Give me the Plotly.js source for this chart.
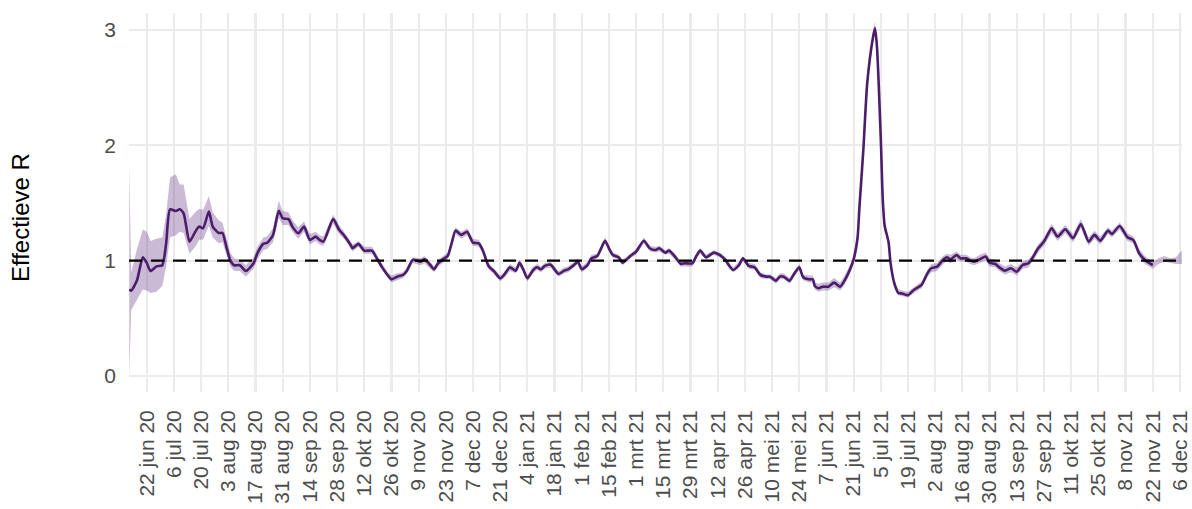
<!DOCTYPE html>
<html>
<head>
<meta charset="utf-8">
<script src="https://cdn.plot.ly/plotly-3.0.1.min.js"></script>
<style>
  html, body { margin: 0; padding: 0; background: #ffffff; }
  #chart { width: 1192px; height: 509px; }
</style>
</head>
<body>
<div id="chart"></div>
<script>
// ---- Data ----
const dates = [
  "2020-06-13","2020-06-14","2020-06-17","2020-06-20","2020-06-22","2020-06-24","2020-06-27","2020-06-30",
  "2020-07-02","2020-07-04","2020-07-07","2020-07-09","2020-07-11","2020-07-14","2020-07-17","2020-07-19",
  "2020-07-21","2020-07-24","2020-07-26","2020-07-29","2020-07-31","2020-08-02","2020-08-04","2020-08-06",
  "2020-08-09","2020-08-12","2020-08-16","2020-08-18","2020-08-21","2020-08-23","2020-08-26","2020-08-29",
  "2020-08-31","2020-09-03","2020-09-05","2020-09-08","2020-09-11","2020-09-14","2020-09-17","2020-09-19",
  "2020-09-21","2020-09-26","2020-09-29","2020-10-02","2020-10-05","2020-10-06","2020-10-09","2020-10-12",
  "2020-10-16","2020-10-18","2020-10-21","2020-10-24","2020-10-26","2020-10-29","2020-11-01","2020-11-03",
  "2020-11-06","2020-11-10","2020-11-12","2020-11-15","2020-11-17","2020-11-19","2020-11-22","2020-11-24",
  "2020-11-26","2020-11-28","2020-12-01","2020-12-04","2020-12-07","2020-12-10","2020-12-12","2020-12-15",
  "2020-12-18","2020-12-21","2020-12-23","2020-12-26","2020-12-29","2020-12-31","2021-01-02","2021-01-04",
  "2021-01-07","2021-01-09","2021-01-11","2021-01-13","2021-01-16","2021-01-20","2021-01-23","2021-01-25",
  "2021-01-28","2021-01-30","2021-02-01","2021-02-04","2021-02-06","2021-02-09","2021-02-11","2021-02-13",
  "2021-02-15","2021-02-17","2021-02-20","2021-02-22","2021-02-26","2021-03-01","2021-03-05","2021-03-08",
  "2021-03-11","2021-03-13","2021-03-16","2021-03-18","2021-03-21","2021-03-24","2021-03-26","2021-03-30",
  "2021-04-01","2021-04-03","2021-04-06","2021-04-10","2021-04-13","2021-04-16","2021-04-18","2021-04-20",
  "2021-04-23","2021-04-25","2021-04-28","2021-05-01","2021-05-04","2021-05-07","2021-05-09","2021-05-12",
  "2021-05-14","2021-05-16","2021-05-19","2021-05-21","2021-05-24","2021-05-26","2021-05-29","2021-05-31",
  "2021-06-01","2021-06-03","2021-06-05","2021-06-08","2021-06-11","2021-06-14","2021-06-16","2021-06-19",
  "2021-06-21","2021-06-23","2021-06-24","2021-06-26","2021-06-28","2021-07-01","2021-07-02","2021-07-03",
  "2021-07-05","2021-07-06","2021-07-07","2021-07-09","2021-07-10","2021-07-12","2021-07-14","2021-07-16",
  "2021-07-19","2021-07-22","2021-07-26","2021-07-29","2021-07-31","2021-08-03","2021-08-06","2021-08-08",
  "2021-08-10","2021-08-13","2021-08-15","2021-08-18","2021-08-20","2021-08-22","2021-08-25","2021-08-28",
  "2021-08-30","2021-09-02","2021-09-04","2021-09-07","2021-09-10","2021-09-13","2021-09-16","2021-09-19",
  "2021-09-21","2021-09-24","2021-09-27","2021-10-01","2021-10-04","2021-10-08","2021-10-12","2021-10-16",
  "2021-10-20","2021-10-23","2021-10-26","2021-10-30","2021-11-01","2021-11-05","2021-11-09","2021-11-12",
  "2021-11-15","2021-11-18","2021-11-21","2021-11-22","2021-11-25","2021-11-28","2021-12-01","2021-12-04",
  "2021-12-07"
];

const rValues = [
  0.75,0.74,0.83,1.03,0.98,0.91,0.95,0.96,
  1.15,1.445,1.43,1.445,1.41,1.165,1.25,1.295,
  1.28,1.425,1.295,1.24,1.24,1.12,1.005,0.96,
  0.96,0.91,0.977,1.064,1.145,1.155,1.22,1.433,
  1.367,1.36,1.295,1.237,1.295,1.18,1.208,1.18,
  1.165,1.36,1.27,1.21,1.136,1.107,1.145,1.087,
  1.087,1.035,0.948,0.876,0.838,0.861,0.876,0.913,
  1.006,0.991,1.012,0.962,0.925,0.977,1.017,1.04,
  1.15,1.26,1.223,1.251,1.156,1.15,1.092,0.954,
  0.904,0.847,0.876,0.942,0.913,0.982,0.919,0.847,
  0.919,0.942,0.925,0.954,0.965,0.884,0.913,0.925,
  0.962,0.991,0.925,0.962,1.02,1.04,1.107,1.173,
  1.107,1.049,1.029,0.982,1.04,1.078,1.173,1.107,
  1.092,1.107,1.069,1.087,1.035,0.971,0.977,0.977,
  1.04,1.087,1.029,1.069,1.049,1.006,0.954,0.919,
  0.962,1.02,0.954,0.942,0.876,0.861,0.861,0.826,
  0.861,0.861,0.826,0.876,0.942,0.856,0.838,0.838,
  0.78,0.76,0.774,0.774,0.809,0.774,0.818,0.919,
  1.01,1.194,1.468,1.96,2.54,2.94,3.015,2.86,
  2.05,1.53,1.30,1.16,0.98,0.80,0.72,0.715,
  0.70,0.746,0.789,0.89,0.934,0.948,1.006,1.029,
  1.012,1.049,1.02,1.02,1.0,0.991,1.012,1.035,
  0.982,0.971,0.942,0.913,0.934,0.904,0.962,0.977,
  1.02,1.107,1.165,1.28,1.208,1.272,1.194,1.318,
  1.165,1.223,1.173,1.26,1.231,1.30,1.203,1.18,
  1.064,1.006,0.971,0.962,null,null,null,null,
  null
];

const ciLower = [
  0.00,0.57,0.66,0.75,0.74,0.72,0.73,0.78,
  0.95,1.20,1.22,1.25,1.24,1.06,1.12,1.18,
  1.18,1.30,1.20,1.15,1.16,1.05,0.95,0.91,
  0.91,0.86,0.93,1.01,1.09,1.10,1.16,1.37,
  1.31,1.31,1.25,1.19,1.25,1.14,1.17,1.14,
  1.13,1.32,1.23,1.18,1.11,1.08,1.12,1.06,
  1.06,1.01,0.92,0.85,0.81,0.83,0.85,0.89,
  0.98,0.96,0.98,0.93,0.90,0.95,0.99,1.01,
  1.12,1.23,1.19,1.22,1.13,1.12,1.06,0.93,
  0.88,0.82,0.85,0.91,0.89,0.95,0.89,0.82,
  0.89,0.92,0.90,0.93,0.94,0.86,0.89,0.90,
  0.94,0.97,0.90,0.94,1.00,1.02,1.08,1.15,
  1.08,1.03,1.01,0.96,1.02,1.05,1.15,1.08,
  1.07,1.08,1.05,1.06,1.01,0.95,0.95,0.95,
  1.02,1.06,1.01,1.05,1.03,0.98,0.93,0.90,
  0.94,1.00,0.93,0.92,0.85,0.84,0.84,0.80,
  0.84,0.84,0.80,0.85,0.92,0.83,0.81,0.81,
  0.75,0.73,0.74,0.74,0.77,0.74,0.78,0.88,
  0.97,1.15,1.42,1.91,2.49,2.89,2.96,2.81,
  2.00,1.49,1.26,1.13,0.95,0.77,0.70,0.69,
  0.68,0.72,0.76,0.86,0.90,0.91,0.97,0.99,
  0.98,1.01,0.99,0.99,0.97,0.96,0.98,1.00,
  0.95,0.94,0.91,0.88,0.90,0.87,0.93,0.94,
  0.99,1.07,1.13,1.24,1.17,1.24,1.16,1.28,
  1.13,1.19,1.14,1.23,1.20,1.27,1.17,1.15,
  1.03,0.97,0.94,0.93,0.97,0.99,0.98,0.97,
  0.97
];

const ciUpper = [
  1.85,0.90,1.10,1.27,1.25,1.17,1.19,1.20,
  1.40,1.72,1.75,1.66,1.66,1.36,1.42,1.45,
  1.44,1.56,1.42,1.35,1.33,1.20,1.07,1.02,
  1.01,0.96,1.03,1.12,1.20,1.21,1.28,1.52,
  1.43,1.42,1.35,1.29,1.34,1.23,1.25,1.22,
  1.21,1.40,1.31,1.24,1.17,1.14,1.17,1.12,
  1.12,1.06,0.98,0.90,0.87,0.89,0.90,0.94,
  1.03,1.02,1.04,0.99,0.95,1.01,1.05,1.07,
  1.18,1.29,1.25,1.28,1.19,1.18,1.12,0.98,
  0.93,0.87,0.90,0.97,0.94,1.01,0.95,0.87,
  0.95,0.97,0.95,0.98,0.99,0.91,0.94,0.95,
  0.99,1.02,0.95,0.99,1.05,1.06,1.13,1.20,
  1.13,1.07,1.05,1.01,1.06,1.10,1.20,1.13,
  1.12,1.13,1.09,1.11,1.06,0.99,1.00,1.00,
  1.06,1.11,1.05,1.09,1.07,1.03,0.98,0.94,
  0.99,1.04,0.98,0.97,0.90,0.88,0.88,0.85,
  0.89,0.89,0.85,0.90,0.97,0.88,0.87,0.87,
  0.81,0.80,0.81,0.81,0.85,0.81,0.86,0.96,
  1.05,1.24,1.52,2.01,2.59,2.99,3.07,2.91,
  2.10,1.57,1.34,1.19,1.01,0.83,0.75,0.74,
  0.73,0.77,0.82,0.92,0.97,0.98,1.04,1.06,
  1.05,1.08,1.05,1.05,1.03,1.02,1.05,1.07,
  1.02,1.01,0.98,0.95,0.97,0.94,1.00,1.01,
  1.05,1.14,1.20,1.32,1.24,1.31,1.23,1.36,
  1.20,1.26,1.21,1.29,1.26,1.33,1.24,1.21,
  1.10,1.04,1.00,0.99,1.02,1.04,1.02,1.03,
  1.09
];

const tickDates = [
  "2020-06-22","2020-07-06","2020-07-20","2020-08-03","2020-08-17","2020-08-31","2020-09-14","2020-09-28",
  "2020-10-12","2020-10-26","2020-11-09","2020-11-23","2020-12-07","2020-12-21","2021-01-04","2021-01-18",
  "2021-02-01","2021-02-15","2021-03-01","2021-03-15","2021-03-29","2021-04-12","2021-04-26","2021-05-10",
  "2021-05-24","2021-06-07","2021-06-21","2021-07-05","2021-07-19","2021-08-02","2021-08-16","2021-08-30",
  "2021-09-13","2021-09-27","2021-10-11","2021-10-25","2021-11-08","2021-11-22","2021-12-06"
];
const tickLabels = [
  "22 jun 20","6 jul 20","20 jul 20","3 aug 20","17 aug 20","31 aug 20","14 sep 20","28 sep 20",
  "12 okt 20","26 okt 20","9 nov 20","23 nov 20","7 dec 20","21 dec 20","4 jan 21","18 jan 21",
  "1 feb 21","15 feb 21","1 mrt 21","15 mrt 21","29 mrt 21","12 apr 21","26 apr 21","10 mei 21",
  "24 mei 21","7 jun 21","21 jun 21","5 jul 21","19 jul 21","2 aug 21","16 aug 21","30 aug 21",
  "13 sep 21","27 sep 21","11 okt 21","25 okt 21","8 nov 21","22 nov 21","6 dec 21"
];
const yTicks = [0, 1, 2, 3];
const referenceR = 1;
const yTitle = "Effectieve R";

// ---- Styling ----
const lineColor = "#4b1d6b";
const ribbonColor = "rgba(90, 40, 125, 0.32)";
const gridColor = "#ebebeb";
const tickColor = "#4d4d4d";
const font = "Liberation Sans, Arial, sans-serif";

const traces = [
  {
    x: dates, y: ciLower, type: "scatter", mode: "lines",
    line: {width: 0, color: ribbonColor}, hoverinfo: "skip", showlegend: false
  },
  {
    x: dates, y: ciUpper, type: "scatter", mode: "lines", fill: "tonexty",
    fillcolor: ribbonColor, line: {width: 0, color: ribbonColor},
    hoverinfo: "skip", showlegend: false
  },
  {
    x: dates, y: rValues, type: "scatter", mode: "lines", connectgaps: false,
    line: {color: lineColor, width: 2.6, shape: "spline", smoothing: 0.6},
    showlegend: false
  }
];

const layout = {
  width: 1192, height: 509,
  margin: {l: 129, r: 10, t: 13, b: 117},
  paper_bgcolor: "#ffffff", plot_bgcolor: "#ffffff",
  showlegend: false,
  font: {family: font, color: tickColor},
  xaxis: {
    type: "date",
    range: ["2020-06-12 21:00", "2021-12-07 02:00"],
    tickmode: "array", tickvals: tickDates, ticktext: tickLabels,
    tickangle: -90,
    tickfont: {family: font, size: 21, color: tickColor},
    showgrid: true, gridcolor: gridColor, gridwidth: 2.2,
    zeroline: false, showline: false, ticks: "",
    ticklabelstandoff: 13
  },
  yaxis: {
    range: [-0.139, 3.147],
    tickmode: "array", tickvals: yTicks,
    tickfont: {family: font, size: 21, color: tickColor},
    showgrid: true, gridcolor: gridColor, gridwidth: 2.2,
    zeroline: false, showline: false, ticks: "",
    ticklabelstandoff: 12
  },
  shapes: [{
    type: "line", xref: "paper", x0: 0, x1: 1, yref: "y", y0: referenceR, y1: referenceR,
    line: {color: "#000000", width: 2.2, dash: "13px,9px"}, layer: "above"
  }],
  annotations: [{
    text: yTitle, xref: "paper", yref: "paper",
    x: -0.1035, y: 0.459, xanchor: "center", yanchor: "middle",
    textangle: -90, showarrow: false,
    font: {family: font, size: 24, color: "#000000"}
  }]
};

Plotly.newPlot("chart", traces, layout, {displayModeBar: false, staticPlot: true});
</script>
</body>
</html>
